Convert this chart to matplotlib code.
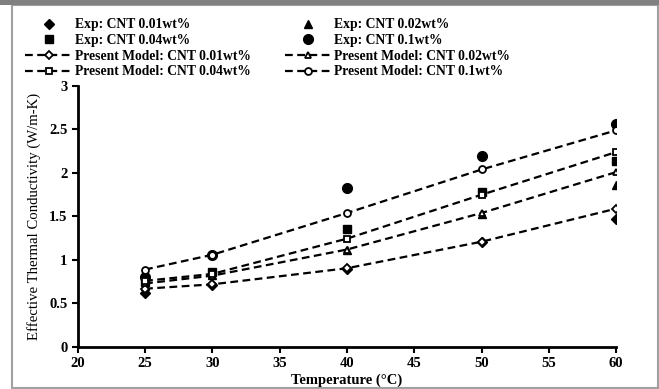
import matplotlib
matplotlib.use("Agg")
import matplotlib.pyplot as plt
from matplotlib.patches import Rectangle

plt.rcParams['font.family'] = ['Liberation Serif', 'DejaVu Serif']

# Data
temps = [25, 30, 40, 50, 60]

exp_001 = [0.62, 0.71, 0.90, 1.21, 1.47]
exp_002 = [0.70, 0.83, 1.12, 1.53, 1.86]
exp_004 = [0.75, 0.86, 1.36, 1.785, 2.14]
exp_01 = [0.80, 1.06, 1.83, 2.195, 2.56]

model_001 = [0.67, 0.72, 0.905, 1.21, 1.59]
model_002 = [0.73, 0.82, 1.12, 1.54, 2.01]
model_004 = [0.76, 0.84, 1.245, 1.75, 2.24]
model_01 = [0.89, 1.06, 1.54, 2.04, 2.49]

fig = plt.figure(figsize=(6.59, 3.89), dpi=100)
ax = fig.add_axes([0.118, 0.108, 0.817, 0.671])

ms = 6
e1, = ax.plot(temps, exp_001, 'D', color='black', ms=ms - 1, ls='none', label='Exp: CNT 0.01wt%')
e2, = ax.plot(temps, exp_002, '^', color='black', ms=ms, ls='none', label='Exp: CNT 0.02wt%')
e4, = ax.plot(temps, exp_004, 's', color='black', ms=ms, ls='none', label='Exp: CNT 0.04wt%')
e10, = ax.plot(temps, exp_01, 'o', color='black', ms=ms + 1, ls='none', label='Exp: CNT 0.1wt%')

dash = (0, (3.5, 2))
m1, = ax.plot(temps, model_001, ls=dash, marker='D', color='black', lw=1.6, ms=ms - 2,
              mfc='white', mew=1.3, label='Present Model: CNT 0.01wt%')
m2, = ax.plot(temps, model_002, ls=dash, marker='^', color='black', lw=1.6, ms=ms - 1,
              mfc='white', mew=1.3, label='Present Model: CNT 0.02wt%')
m4, = ax.plot(temps, model_004, ls=dash, marker='s', color='black', lw=1.6, ms=ms - 1,
              mfc='white', mew=1.3, label='Present Model: CNT 0.04wt%')
m10, = ax.plot(temps, model_01, ls=dash, marker='o', color='black', lw=1.6, ms=ms - 1,
               mfc='white', mew=1.3, label='Present Model: CNT 0.1wt%')

ax.set_xlim(20, 60)
ax.set_ylim(0, 3)
ax.set_xticks(range(20, 61, 5))
ax.set_yticks([0, 0.5, 1, 1.5, 2, 2.5, 3])
ax.set_yticklabels(['0', '0.5', '1', '1.5', '2', '2.5', '3'])
for side in ['top', 'right']:
    ax.spines[side].set_visible(False)
for side in ['left', 'bottom']:
    ax.spines[side].set_linewidth(2)
ax.tick_params(direction='out', length=4, width=1.5, labelsize=10.5)
for lab in ax.get_xticklabels() + ax.get_yticklabels():
    lab.set_fontweight('bold')

ax.set_xlabel('Temperature (°C)', fontsize=10.5, fontweight='bold', labelpad=2)
ax.set_ylabel('Effective Thermal Conductivity (W/m-K)', fontsize=10.6, labelpad=6)

# legend filled row by row (matplotlib fills column by column)
handles = [e1, e4, m1, m4, e2, e10, m2, m10]
fig.legend(handles=handles, labels=[h.get_label() for h in handles],
           loc='upper left', bbox_to_anchor=(0.038, 0.953), ncol=2, frameon=False,
           prop={'weight': 'bold', 'size': 9.8}, handlelength=3.5,
           handletextpad=0.15, labelspacing=0.2, columnspacing=2.5,
           borderaxespad=0, borderpad=0)

# grey frame around the figure
fig.patches.append(Rectangle((0.018, 0.003), 0.98, 0.985, transform=fig.transFigure,
                             fill=False, edgecolor='#a0a0a0', lw=1.5))
fig.patches.append(Rectangle((0.0, 0.988), 1.0, 0.012, transform=fig.transFigure,
                             color='#808080', lw=0))

fig.savefig('out.png', dpi=100)
